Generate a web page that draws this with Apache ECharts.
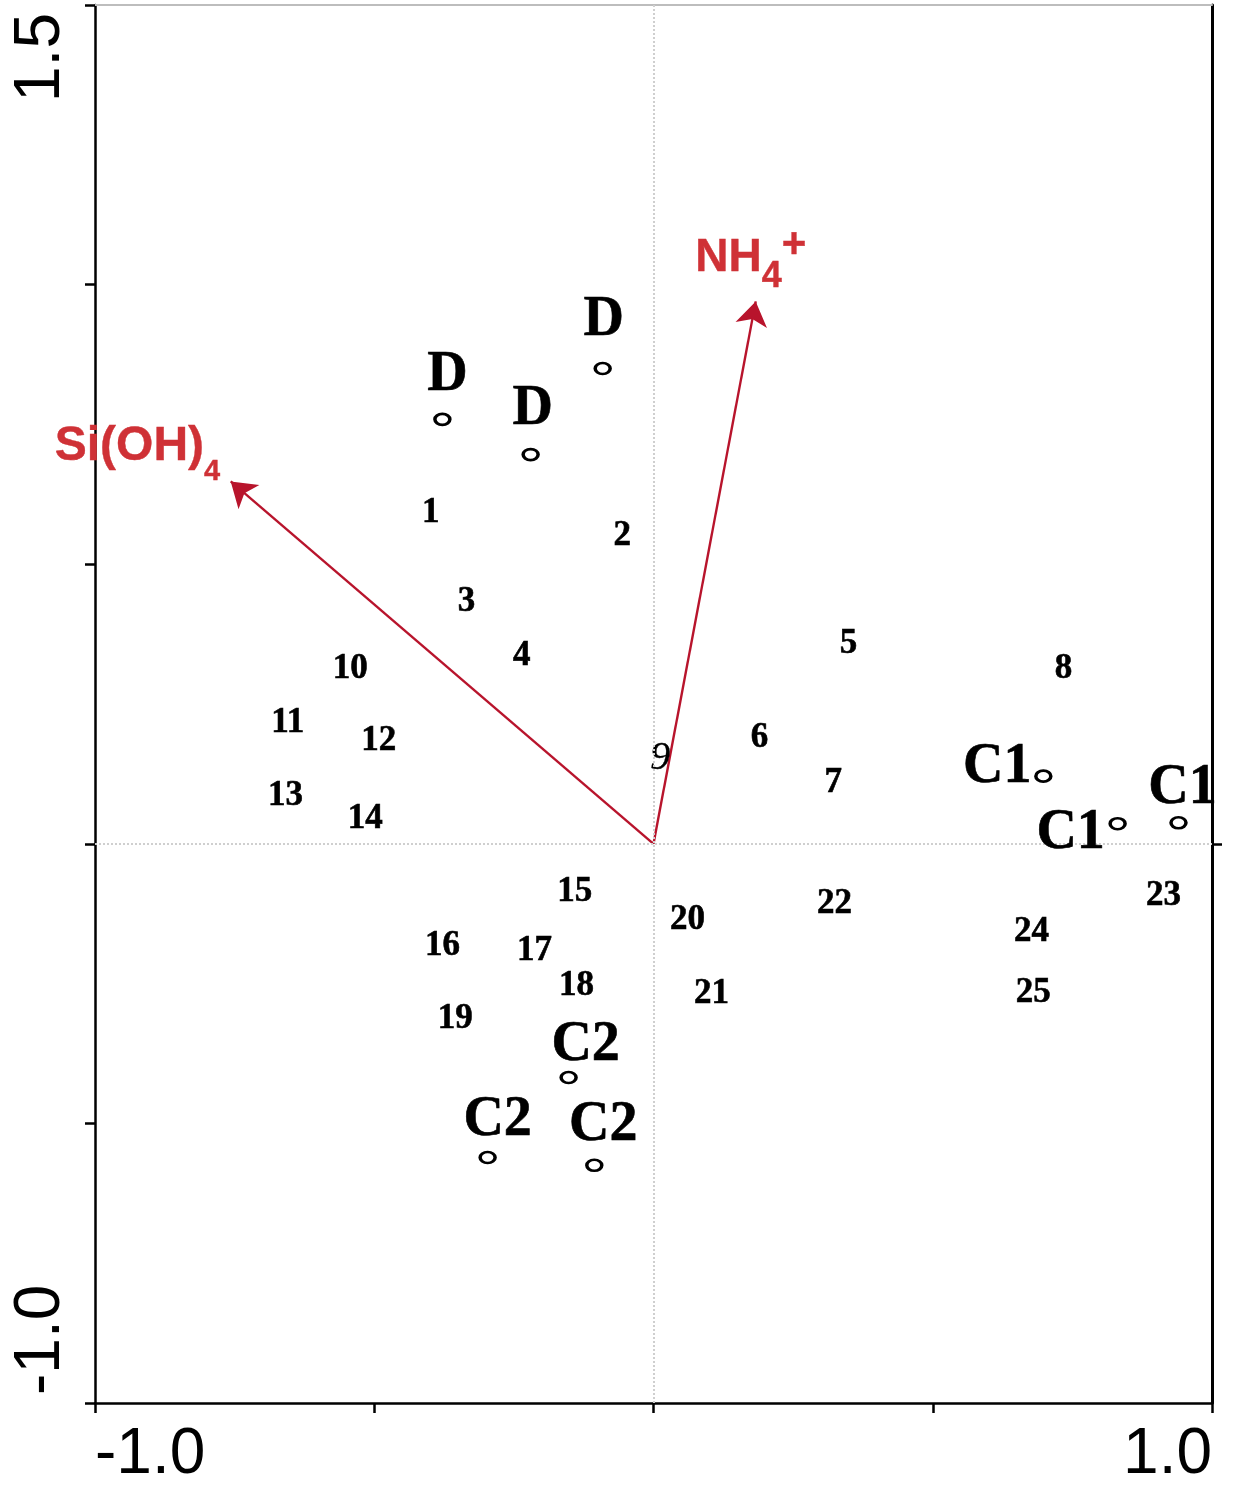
<!DOCTYPE html>
<html>
<head>
<meta charset="utf-8">
<script src="https://cdn.jsdelivr.net/npm/echarts@6/dist/echarts.min.js"></script>
<style>
html,body{margin:0;padding:0;background:#fff;}
#chart{width:1260px;height:1494px;}
</style>
</head>
<body>
<div id="chart"></div>
<script>
// ---- data ----
const xTickLabelValues = [-1.0, 1.0];
const yTickLabelValues = [-1.0, 1.5];

const sampleNames = ['1','2','3','4','5','6','7','8','9','10','11','12','13','14','15','16','17','18','19','20','21','22','23','24','25'];
const sampleX = [-0.399,-0.056,-0.335,-0.236,0.349,0.190,0.322,0.734,0.012,-0.543,-0.655,-0.492,-0.659,-0.516,-0.141,-0.378,-0.213,-0.138,-0.355,0.061,0.104,0.324,0.913,0.677,0.680];
const sampleY = [0.591,0.550,0.432,0.336,0.357,0.189,0.109,0.3125,0.152,0.3125,0.216,0.184,0.086,0.045,-0.086,-0.182,-0.191,-0.254,-0.314,-0.136,-0.268,-0.107,-0.093,-0.157,-0.266];

const dNames = ['D','D','D'];
const dX = [-0.378,-0.220,-0.091];
const dY = [0.759,0.696,0.850];

const c1Names = ['C1','C1','C1'];
const c1X = [0.698,0.831,0.940];
const c1Y = [0.121,0.036,0.0375];

const c2Names = ['C2','C2','C2'];
const c2X = [-0.152,-0.297,-0.106];
const c2Y = [-0.418,-0.561,-0.575];

const envNames = ['Si(OH)4','NH4+'];
const envX = [-0.757,0.183];
const envY = [0.648,0.970];

// ---- styles ----
const serif = '"Liberation Serif","Times New Roman",serif';
const sans = '"Liberation Sans",Arial,sans-serif';
const arrowColor = '#b8142c';
const envLabelColor = '#cf3136';

const sampleData = sampleNames.map((n,i)=>{
  const item = {name:n, value:[sampleX[i], sampleY[i]]};
  if (n === '9') {
    item.label = {fontStyle:'italic', fontWeight:'normal', fontSize:40, textBorderWidth:0.3};
  }
  return item;
});

function centroidData(names, xs, ys, offsets){
  return names.map((n,i)=>({name:n, value:[xs[i], ys[i]], label:{offset:offsets[i]}}));
}
const dData = centroidData(dNames, dX, dY, [[5,-44],[2,-45],[1,-48]]);
const c1Data = centroidData(c1Names, c1X, c1Y, [[-46,-9],[-47,10],[4,-34]]);
const c2Data = centroidData(c2Names, c2X, c2Y, [[17,-32],[10,-37],[9,-40]]);

const centroidSeries = (name, data)=>({
  name, type:'scatter', data,
  symbol:'circle', symbolSize:[15,11],
  itemStyle:{color:'#fff', borderColor:'#000', borderWidth:3, opacity:1},
  label:{show:true, position:'inside', formatter:'{b}', color:'#000',
         fontFamily:serif, fontWeight:'bold', fontSize:56,
         textBorderColor:'#000', textBorderWidth:0.6},
  emphasis:{disabled:true},
  z:5
});

const envBase = {fontWeight:'bold', fontFamily:sans, color:envLabelColor, textBorderColor:envLabelColor, textBorderWidth:0.4};
const envLabelRich = {
  m: Object.assign({}, envBase, {fontSize:48, padding:[0,0,16,0]}),
  s: Object.assign({}, envBase, {fontSize:29, verticalAlign:'bottom'}),
  m2:Object.assign({}, envBase, {fontSize:46, padding:[10,0,14,0]}),
  s2:Object.assign({}, envBase, {fontSize:36, verticalAlign:'bottom'}),
  p2:Object.assign({}, envBase, {fontSize:42, verticalAlign:'top', padding:[0,0,0,0]})
};
const envTipData = envNames.map((n,i)=>{
  const item = {name:n, value:[envX[i], envY[i]]};
  if (i === 0) {
    item.label = {position:'left', distance:10, offset:[0,-27], formatter:'{m|Si(OH)}{s|4}'};
  } else {
    item.label = {position:'top', distance:6, offset:[-5,0], formatter:'{m2|NH}{s2|4}{p2|+}'};
  }
  return item;
});

const chart = echarts.init(document.getElementById('chart'), null, {renderer:'canvas'});
const option = {
  animation:false,
  backgroundColor:'#fff',
  grid:{left:95, right:48, top:5, bottom:91, containLabel:false, outerBoundsMode:'none'},
  xAxis:[{
    type:'value', min:-1, max:1, interval:0.5, position:'bottom',
    axisLine:{show:true, onZero:false, lineStyle:{color:'#000', width:2.5}},
    axisTick:{show:true, length:10, lineStyle:{color:'#000', width:2.5}},
    splitLine:{show:false},
    axisLabel:{
      show:true, margin:20, color:'#000', fontFamily:sans, fontSize:64,
      showMinLabel:true, showMaxLabel:true,
      alignMinLabel:'left', alignMaxLabel:'right',
      formatter:(v)=> xTickLabelValues.some(t=>Math.abs(t-v)<1e-9) ? v.toFixed(1) : ''
    }
  },{
    type:'value', min:-1, max:1, position:'top',
    axisLine:{show:true, onZero:false, lineStyle:{color:'#bdbdbd', width:2}},
    axisTick:{show:false}, axisLabel:{show:false}, splitLine:{show:false}
  }],
  yAxis:[{
    type:'value', min:-1, max:1.5, interval:0.5, position:'left',
    axisLine:{show:true, onZero:false, lineStyle:{color:'#000', width:2.5}},
    axisTick:{show:true, length:10, lineStyle:{color:'#000', width:2.5}},
    splitLine:{show:false},
    axisLabel:{
      show:true, rotate:90, margin:22, color:'#000', fontFamily:sans, fontSize:64,
      showMinLabel:true, showMaxLabel:true,
      alignMinLabel:'left', alignMaxLabel:'right',
      padding:[0,8,0,8],
      formatter:(v)=> yTickLabelValues.some(t=>Math.abs(t-v)<1e-9) ? v.toFixed(1) : ''
    }
  },{
    type:'value', min:-1, max:1.5, position:'right',
    axisLine:{show:true, onZero:false, lineStyle:{color:'#000', width:3}},
    axisTick:{show:true, length:10, customValues:[0], lineStyle:{color:'#000', width:2.5}},
    axisLabel:{show:false}, splitLine:{show:false}
  }],
  series:[
    {
      name:'zero', type:'scatter', data:[], silent:true,
      markLine:{
        silent:true, symbol:['none','none'], label:{show:false},
        lineStyle:{color:'#cfcfcf', type:'dotted', width:2, opacity:1},
        data:[{xAxis:0},{yAxis:0}]
      }
    },
    {
      name:'arrows', type:'lines', coordinateSystem:'cartesian2d',
      symbol:['none','arrow'], symbolSize:[1,24],
      lineStyle:{color:arrowColor, width:2.4, opacity:1},
      itemStyle:{color:arrowColor, opacity:1},
      data: envNames.map((n,i)=>({name:n, coords:[[0,0],[envX[i], envY[i]]]})),
      z:3
    },
    {
      name:'envLabels', type:'scatter', data:envTipData,
      symbolSize:1, itemStyle:{color:'rgba(0,0,0,0)', opacity:1},
      label:{show:true, rich:envLabelRich},
      emphasis:{disabled:true},
      z:4
    },
    {
      name:'samples', type:'scatter', data:sampleData,
      symbolSize:1, itemStyle:{color:'rgba(0,0,0,0)', opacity:1},
      label:{show:true, position:'inside', formatter:'{b}', color:'#000',
             fontFamily:serif, fontWeight:'bold', fontSize:35,
             textBorderColor:'#000', textBorderWidth:0.6},
      emphasis:{disabled:true},
      z:4
    },
    centroidSeries('D', dData),
    centroidSeries('C1', c1Data),
    centroidSeries('C2', c2Data)
  ]
};
chart.setOption(option);
</script>
</body>
</html>
